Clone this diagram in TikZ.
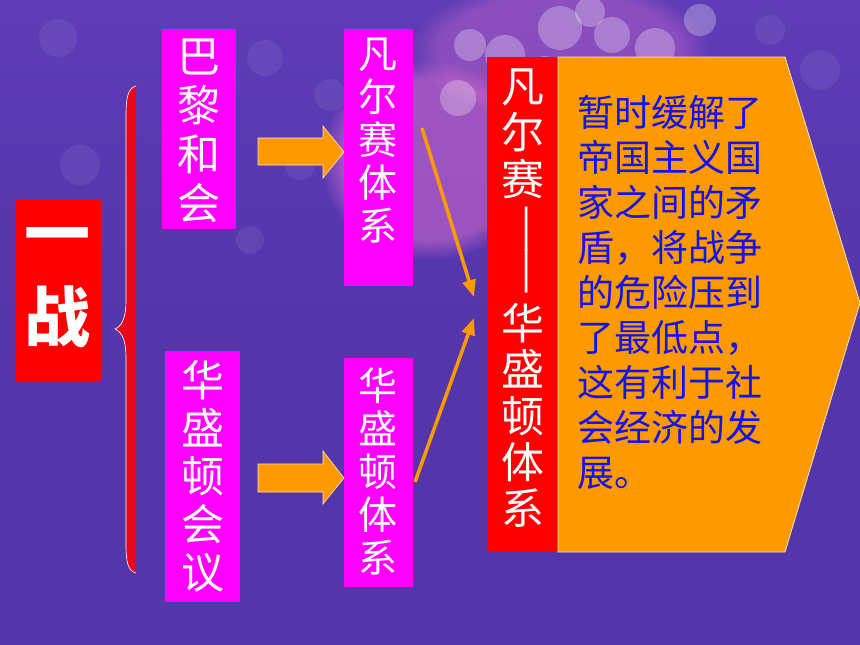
\documentclass[tikz,border=0pt]{standalone}
\usepackage{fontspec}
\newfontfamily\cjk{Noto Sans CJK SC}
\usetikzlibrary{arrows.meta,fadings}
\definecolor{bgp}{HTML}{5236AA}
\definecolor{bgtop}{HTML}{5E3CB6}
\definecolor{mag}{HTML}{FF00FF}
\definecolor{rbox}{HTML}{FF0000}
\definecolor{brace}{HTML}{E8081A}
\definecolor{org}{HTML}{FF9900}
\definecolor{btxt}{HTML}{1414E6}
\definecolor{glow}{HTML}{E070D0}
\tikzset{
  magbox/.style={fill=mag, inner sep=0pt},
  redbox/.style={fill=rbox, inner sep=0pt},
  wtext/.style={text=white, align=center, inner sep=0pt},
  thinarrow/.style={draw=org, line width=3.5pt, -{Triangle[length=17pt,width=13pt]}},
  blockarrow/.style={fill=org, draw=white!75!org, line width=0.6pt},
  bokeh/.style={fill=white, fill opacity=0.28},
}
\begin{document}
\begin{tikzpicture}[x=1pt,y=-1pt]
\useasboundingbox (0,0) rectangle (860,645);
% background
\fill[bgp] (0,0) rectangle (860,645);
\fill[top color=bgtop, bottom color=bgp] (0,0) rectangle (860,330);
\fill[glow, fill opacity=0.5, path fading=circle with fuzzy edge 20 percent] (430,160) ellipse (110 and 100);
\fill[glow, fill opacity=0.35, path fading=circle with fuzzy edge 20 percent] (560,50) ellipse (150 and 70);
\foreach \cx/\cy/\r in {560/28/22, 505/55/20, 612/35/18, 590/12/15, 458/98/18, 520/92/16, 655/48/20, 700/20/16, 545/70/14, 470/45/16}
  \fill[bokeh] (\cx,\cy) circle (\r);
\foreach \cx/\cy/\r in {58/38/19, 265/58/18, 330/95/16, 80/165/20, 300/165/15, 820/70/20, 770/30/15, 250/240/14}
  \fill[white, fill opacity=0.07] (\cx,\cy) circle (\r);

% 一战
\node[redbox, minimum width=86pt, minimum height=181pt] (yz) at (57.5,290.5) {};
\node[wtext, font=\cjk\bfseries\fontsize{66}{83}\selectfont] (yzt) at (57,288) {一\\战};

% brace
\fill[brace] (136,86) .. controls (128,88) and (126,98) .. (126,115) -- (126,300)
  .. controls (126,318) and (122,326) .. (115,329)
  .. controls (122,332) and (126,340) .. (126,358) -- (126,545)
  .. controls (126,562) and (128,571) .. (136,573) -- cycle;
\draw[white, line width=0.6pt] (136,86) .. controls (128,88) and (126,98) .. (126,115) -- (126,300)
  .. controls (126,318) and (122,326) .. (115,329)
  .. controls (122,332) and (126,340) .. (126,358) -- (126,545)
  .. controls (126,562) and (128,571) .. (136,573);

% magenta boxes
\node[magbox, minimum width=74pt, minimum height=200pt] (bali) at (199,129) {};
\node[wtext, font=\cjk\fontsize{43}{49}\selectfont] (balit) at (199,131) {巴\\黎\\和\\会};

\node[magbox, minimum width=69pt, minimum height=257pt] (fes) at (378.5,157.5) {};
\node[wtext, font=\cjk\fontsize{39}{43}\selectfont] (fest) at (378,141) {凡\\尔\\赛\\体\\系};

\node[magbox, minimum width=75pt, minimum height=251pt] (hsd) at (202.5,476.5) {};
\node[wtext, font=\cjk\fontsize{43}{48}\selectfont] (hsdt) at (203,476) {华\\盛\\顿\\会\\议};

\node[magbox, minimum width=69pt, minimum height=229pt] (hst) at (378.5,472.5) {};
\node[wtext, font=\cjk\fontsize{39}{43}\selectfont] (hstt) at (378,471) {华\\盛\\顿\\体\\系};

% block arrows
\path[blockarrow] (258,138) -- (323,138) -- (323,126) -- (344,152) -- (323,178) -- (323,165) -- (258,165) -- cycle;
\path[blockarrow] (258,464) -- (323,464) -- (323,451) -- (344,478) -- (323,504) -- (323,492) -- (258,492) -- cycle;

% red box
\node[redbox, minimum width=71pt, minimum height=495pt] (vw) at (522.5,304.5) {};
\node[wtext, font=\cjk\fontsize{43}{46.5}\selectfont] (vwt1) at (523,133.5) {凡\\尔\\赛};
\node[wtext, rotate=-90, font=\cjk\fontsize{43}{46.5}\selectfont] (vwd) at (521,250) {\resizebox{92pt}{\height}{—\kern-5pt—}};
\node[wtext, font=\cjk\fontsize{43}{46.3}\selectfont] (vwt2) at (523,415.5) {华\\盛\\顿\\体\\系};

% chevron
\path[fill=org, draw=white!75!org, line width=0.8pt] (558,57) -- (785,57) -- (860,303) -- (785,552) -- (558,552) -- cycle;
\node[text=btxt, align=left, inner sep=0pt, font=\cjk\fontsize{37}{45}\selectfont] (expl) at (670,292.5)
  {暂时缓解了\\帝国主义国\\家之间的矛\\盾，将战争\\的危险压到\\了最低点，\\这有利于社\\会经济的发\\展。};

% thin arrows
\coordinate (a1s) at (422,128);
\coordinate (a1e) at (474,297);
\coordinate (a2s) at (415,482);
\coordinate (a2e) at (474,318);
\draw[thinarrow] (a1s) -- (a1e);
\draw[thinarrow] (a2s) -- (a2e);
\end{tikzpicture}
\end{document}
